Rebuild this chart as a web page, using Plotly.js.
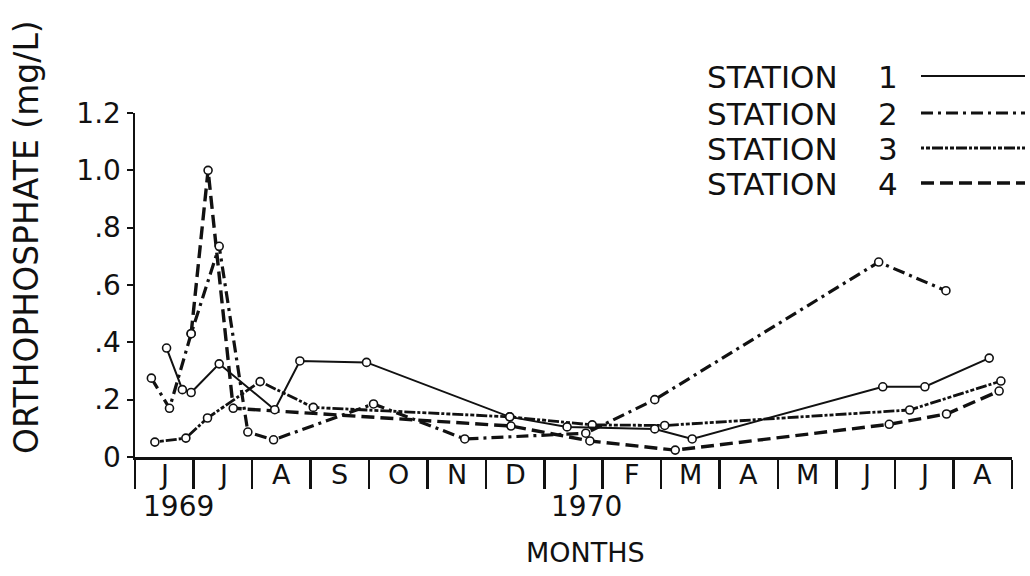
<!DOCTYPE html>
<html>
<head>
<meta charset="utf-8">
<script src="https://cdn.plot.ly/plotly-3.0.1.min.js"></script>
<style>html,body{margin:0;padding:0;background:#fff;}#chart{width:1030px;height:576px;}</style>
</head>
<body>
<div id="chart"></div>
<script>
// Month labels (June 1969 .. August 1970)
var monthLabels = ["J","J","A","S","O","N","D","J","F","M","A","M","J","J","A"];
var yearLabels = ["1969","1970"];
var yearPos = [0.74, 7.73];
var yTickVals = [0, 0.2, 0.4, 0.6, 0.8, 1.0, 1.2];
var yTickText = ["0", ".2", ".4", ".6", ".8", "1.0", "1.2"];

// Orthophosphate (mg/L); x = months since 1 June 1969
var s1x = [0.54, 0.81, 0.96, 1.44, 2.39, 2.82, 3.96, 6.41, 7.39, 8.89, 9.53, 12.79, 13.51, 14.61];
var s1y = [0.38, 0.235, 0.225, 0.325, 0.165, 0.335, 0.33, 0.14, 0.105, 0.098, 0.063, 0.245, 0.245, 0.345];

var s2x = [0.28, 0.59, 0.96, 1.44, 1.93, 2.37, 4.08, 5.64, 7.71, 8.89, 12.72, 13.87];
var s2y = [0.275, 0.17, 0.43, 0.735, 0.087, 0.06, 0.185, 0.063, 0.083, 0.2, 0.68, 0.58];

var s3x = [0.34, 0.87, 1.24, 2.14, 3.05, 6.41, 7.82, 9.06, 13.25, 14.81];
var s3y = [0.052, 0.066, 0.136, 0.263, 0.173, 0.14, 0.112, 0.11, 0.164, 0.265];

var s4x = [0.96, 1.25, 1.68, 6.43, 7.78, 9.24, 12.9, 13.88, 14.78];
var s4y = [0.43, 1.0, 0.17, 0.108, 0.056, 0.024, 0.114, 0.15, 0.23];

var stationNames = ["STATION", "STATION", "STATION", "STATION"];
var stationNums = ["1", "2", "3", "4"];

var FONT = "DejaVu Sans, sans-serif";
var INK = "#111";
var dashes = ["solid", "12px,5px,3px,5px", "3px,2px,4px,2px,11px,2px", "13px,6px"];
var widths = [2, 3.2, 2.8, 3.4];

var marker = {symbol: "circle", size: 8, color: "#fff", line: {color: INK, width: 1.6}};
function tr(x, y, i) {
  return {x: x, y: y, type: "scatter", mode: "lines+markers",
    line: {color: INK, width: widths[i], dash: dashes[i]},
    marker: marker, cliponaxis: false, showlegend: false, hoverinfo: "x+y"};
}
var data = [tr(s4x, s4y, 3), tr(s3x, s3y, 2), tr(s2x, s2y, 1), tr(s1x, s1y, 0)];

function px2x(p){ return (p - 135) / 877; }
function py2y(p){ return (457 - p) / 344; }

var annotations = [];
monthLabels.forEach(function(m, i){
  annotations.push({text: m, x: i + 0.5, xref: "x", y: py2y(474), yref: "paper",
    showarrow: false, xanchor: "center", yanchor: "middle", font: {family: FONT, size: 27, color: INK}});
});
yearLabels.forEach(function(t, i){
  annotations.push({text: t, x: yearPos[i], xref: "x", y: py2y(506), yref: "paper",
    showarrow: false, xanchor: "center", yanchor: "middle", font: {family: FONT, size: 28, color: INK}});
});
annotations.push({text: "MONTHS", x: 7.7, xref: "x", y: py2y(552), yref: "paper",
  showarrow: false, xanchor: "center", yanchor: "middle", font: {family: FONT, size: 27, color: INK}});
annotations.push({text: "ORTHOPHOSPHATE (mg/L)", x: px2x(26), xref: "paper", y: py2y(237), yref: "paper",
  textangle: -90, showarrow: false, xanchor: "center", yanchor: "middle", font: {family: FONT, size: 33, color: INK}});

var rowY = [77, 114, 149, 184];
var shapes = [];
for (var i = 0; i < 4; i++) {
  annotations.push({text: stationNames[i], x: px2x(705), xref: "paper", y: py2y(rowY[i]), yref: "paper",
    showarrow: false, xanchor: "left", yanchor: "middle", font: {family: FONT, size: 31, color: INK}});
  annotations.push({text: stationNums[i], x: px2x(888), xref: "paper", y: py2y(rowY[i]), yref: "paper",
    showarrow: false, xanchor: "center", yanchor: "middle", font: {family: FONT, size: 31, color: INK}});
  shapes.push({type: "line", xref: "paper", yref: "paper",
    x0: px2x(921), x1: px2x(1025), y0: py2y(rowY[i] - 1), y1: py2y(rowY[i] - 1),
    line: {color: INK, width: widths[i], dash: dashes[i]}});
}

var layout = {
  width: 1030, height: 576,
  margin: {l: 135, r: 18, t: 113, b: 119},
  paper_bgcolor: "#fff", plot_bgcolor: "#fff",
  font: {family: FONT, color: INK},
  xaxis: {range: [0, 15], showgrid: false, zeroline: false, showline: true, linecolor: INK, linewidth: 2.5,
    tickmode: "linear", tick0: 0, dtick: 1, ticks: "outside", ticklen: 29, tickwidth: 2.5, tickcolor: INK,
    showticklabels: false, fixedrange: true},
  yaxis: {range: [0, 1.2], showgrid: false, zeroline: false, showline: true, linecolor: INK, linewidth: 2.5,
    tickmode: "array", tickvals: yTickVals, ticktext: yTickText, ticks: "outside", ticklen: 6, tickwidth: 2, tickcolor: INK,
    tickfont: {family: FONT, size: 28, color: INK}, fixedrange: true},
  annotations: annotations,
  shapes: shapes,
  showlegend: false
};

Plotly.newPlot("chart", data, layout, {displayModeBar: false, staticPlot: true});
</script>
</body>
</html>
